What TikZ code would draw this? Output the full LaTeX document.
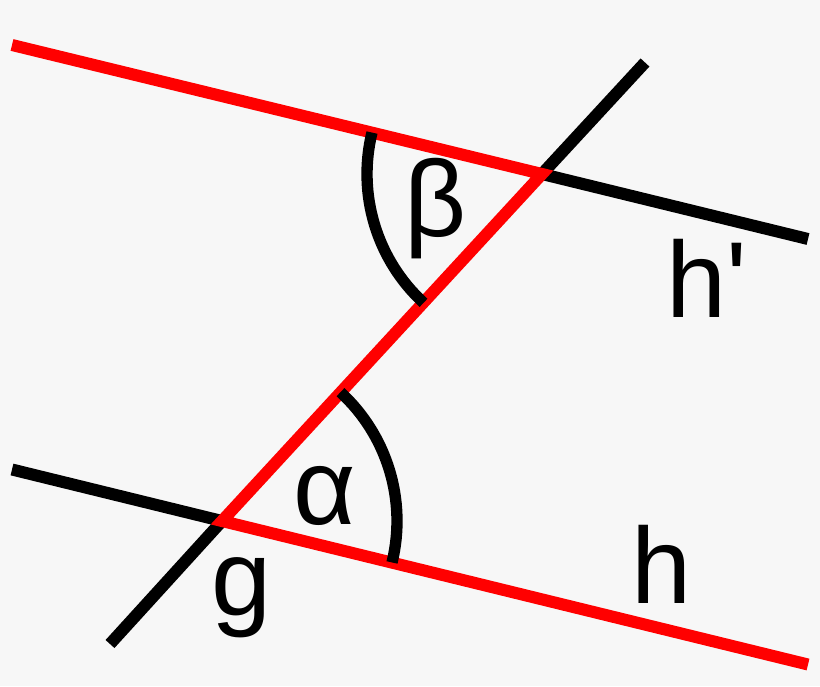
\documentclass[tikz,border=0pt]{standalone}
\usepackage{fontspec}
\setmainfont{Liberation Sans}
\usetikzlibrary{calc}
\definecolor{bgGrey}{HTML}{F7F7F7}
\definecolor{lineRed}{HTML}{FF0000}
\tikzset{every picture/.style={line width=9pt}}
\tikzset{
  blackLine/.style={draw=black, line cap=butt},
  redLine/.style={draw=lineRed, line cap=butt, line join=miter},
  angleArc/.style={draw=black, line width=8.5pt},
  labelText/.style={anchor=base, inner sep=0.75pt, font=\fontsize{81}{95}\selectfont}
}

\begin{document}
\begin{tikzpicture}[x=0.75pt,y=0.75pt,yscale=-1,xscale=1]
%Background
\fill [bgGrey] (0,0) rectangle (820,686);
\useasboundingbox (0,0) rectangle (820,686);

%Points
\coordinate (A) at (222,521);
\coordinate (B) at (542,174);
\coordinate (hLeft) at (12,469.5);
\coordinate (hRight) at (808,664.5);
\coordinate (hpLeft) at (12,45);
\coordinate (hpRight) at (808,239);
\coordinate (gLow) at (110,644);
\coordinate (gHigh) at (645,62.5);

%Straight Lines: black parts
\draw [blackLine] (hLeft) -- (A) ;
\draw [blackLine] (B) -- (hpRight) ;
\draw [blackLine] (gLow) -- (A) ;
\draw [blackLine] (B) -- (gHigh) ;
%Straight Lines: red z
\draw [redLine] (hpLeft) -- (B) -- (A) -- (hRight) ;

%Shape: Arc beta
\draw [angleArc] ($(B)+(193.7:175)$) arc (193.7:132.6:175) ;
%Shape: Arc alpha
\draw [angleArc] ($(A)+(13.7:175)$) arc (13.7:-47.4:175) ;

% Text Node
\node [labelText] (beta) at (436,236) {β};
% Text Node
\node [labelText] (hp) at (707,317) {h\textquotesingle};
% Text Node
\node [labelText] (alpha) at (325,524) {α};
% Text Node
\node [labelText] (g) at (242,615) {g};
% Text Node
\node [labelText] (h) at (662,603) {h};

\end{tikzpicture}
\end{document}
